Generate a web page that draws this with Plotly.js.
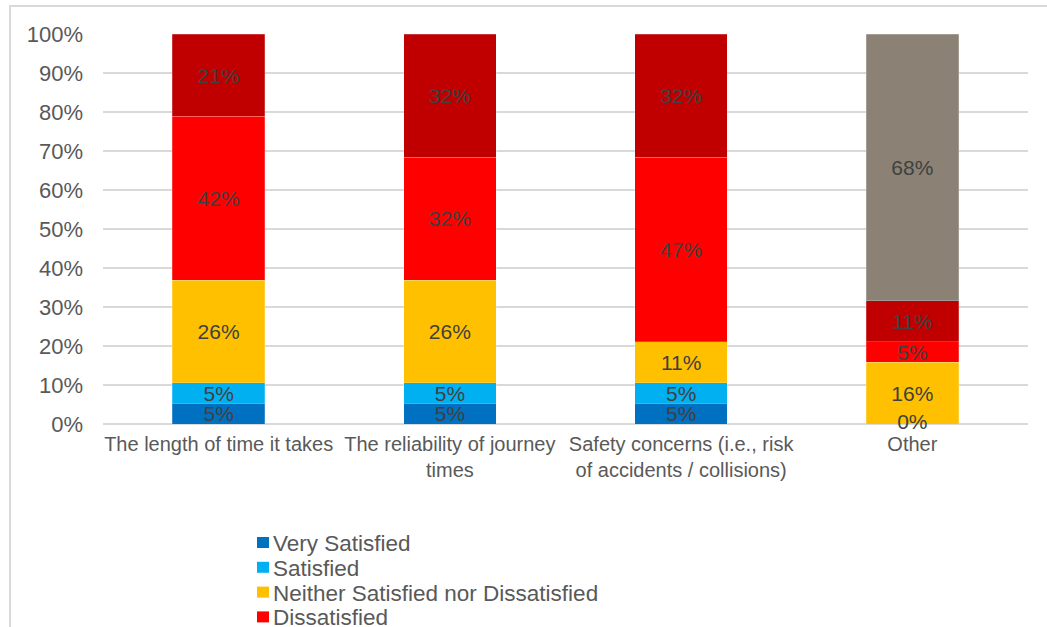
<!DOCTYPE html>
<html>
<head>
<meta charset="utf-8">
<script src="https://cdn.plot.ly/plotly-3.0.1.min.js"></script>
<style>
html,body{margin:0;padding:0;background:#fff;overflow:hidden;}
#frame{position:absolute;left:9px;top:5px;width:1200px;height:900px;border:2px solid #D9D9D9;box-sizing:border-box;}
#chart{position:absolute;left:0;top:0;width:1047px;height:700px;}
</style>
</head>
<body>
<div id="frame"></div>
<div id="chart"></div>
<script>
var categories = [
  "The length of time it takes",
  "The reliability of journey<br>times",
  "Safety concerns (i.e., risk<br>of accidents / collisions)",
  "Other"
];
var seriesNames = [
  "Very Satisfied",
  "Satisfied",
  "Neither Satisfied nor Dissatisfied",
  "Dissatisfied",
  "Very Dissatisfied",
  "Don't know"
];
var verySatisfied = [5.26, 5.26, 5.26, 0];
var satisfied     = [5.26, 5.26, 5.26, 0];
var neither       = [26.32, 26.32, 10.53, 15.79];
var dissatisfied  = [42.11, 31.58, 47.37, 5.26];
var veryDissatisfied = [21.05, 31.58, 31.58, 10.53];
var dontKnow      = [null, null, null, 68.42];
var seriesColors = ["#0070C0", "#00B0F0", "#FFC000", "#FF0000", "#C00000", "#8B8275"];
var seriesValues = [verySatisfied, satisfied, neither, dissatisfied, veryDissatisfied, dontKnow];
var yTicks = [0,10,20,30,40,50,60,70,80,90,100];

var FONT = "Liberation Sans, Arial, sans-serif";
var traces = seriesValues.map(function(vals, i){
  return {
    type: "bar",
    name: seriesNames[i],
    x: categories,
    y: vals,
    marker: {color: seriesColors[i], line: {color: "rgba(255,255,255,0.35)", width: 0.6}},
    texttemplate: "%{y:.0f}%",
    textposition: "inside",
    insidetextanchor: "middle",
    constraintext: "none",
    textangle: 0,
    textfont: {family: FONT, size: 21, color: "#404040"},
    hoverinfo: "skip",
    cliponaxis: false,
    showlegend: false
  };
});

// labels for zero-height segments (Plotly draws no text on empty bars); one per spot
var zx = [], zy = [], zt = [];
categories.forEach(function(c, j){
  var base = 0, lastZeroBase = null;
  seriesValues.forEach(function(vals){
    var v = vals[j];
    if (v === 0 && lastZeroBase !== base) { zx.push(c); zy.push(base); zt.push("0%"); lastZeroBase = base; }
    if (v !== null) base += v;
  });
});
traces.push({
  type: "scatter", mode: "text", x: zx, y: zy, text: zt,
  textposition: "middle center",
  textfont: {family: FONT, size: 21, color: "#404040"},
  hoverinfo: "skip", showlegend: false, cliponaxis: false
});

// manual legend (pixel-placed) built from series names/colours
var L = 103, R = 1028, T = 34, B = 424;
function px2x(px){ return (px - L) / (R - L); }
function px2y(py){ return (B - py) / (B - T); }
var shapes = [], annotations = [];
seriesNames.forEach(function(n, i){
  var cy = 542.5 + i * 24.8;
  shapes.push({type: "rect", xref: "paper", yref: "paper",
    x0: px2x(257), x1: px2x(269), y0: px2y(cy + 5.5), y1: px2y(cy - 5.5),
    fillcolor: seriesColors[i], line: {width: 0}});
  annotations.push({xref: "paper", yref: "paper", x: px2x(271), y: px2y(cy + 1),
    xanchor: "left", yanchor: "middle", showarrow: false, text: n,
    font: {family: FONT, size: 22.5, color: "#595959"}});
});

var layout = {
  width: 1047, height: 700,
  margin: {l: L, r: 1047 - R, t: T, b: 700 - B, pad: 0},
  paper_bgcolor: "rgba(0,0,0,0)",
  plot_bgcolor: "rgba(0,0,0,0)",
  barmode: "stack",
  bargap: 0.6,
  showlegend: false,
  font: {family: FONT, color: "#595959"},
  xaxis: {
    type: "category",
    tickfont: {family: FONT, size: 20, color: "#595959"},
    showgrid: false, showline: false, ticks: "", ticklabelstandoff: 6,
    fixedrange: true
  },
  yaxis: {
    range: [0, 100],
    tickvals: yTicks,
    ticktext: yTicks.map(function(v){ return v + "%"; }),
    tickfont: {family: FONT, size: 22, color: "#595959"},
    showgrid: true, gridcolor: "#D9D9D9", gridwidth: 1.5,
    zeroline: true, zerolinecolor: "#D9D9D9", zerolinewidth: 1.5,
    showline: false, ticks: "", ticklabelstandoff: 19,
    fixedrange: true
  },
  shapes: shapes,
  annotations: annotations
};
Plotly.newPlot("chart", traces, layout, {displayModeBar: false, staticPlot: true});
</script>
</body>
</html>
